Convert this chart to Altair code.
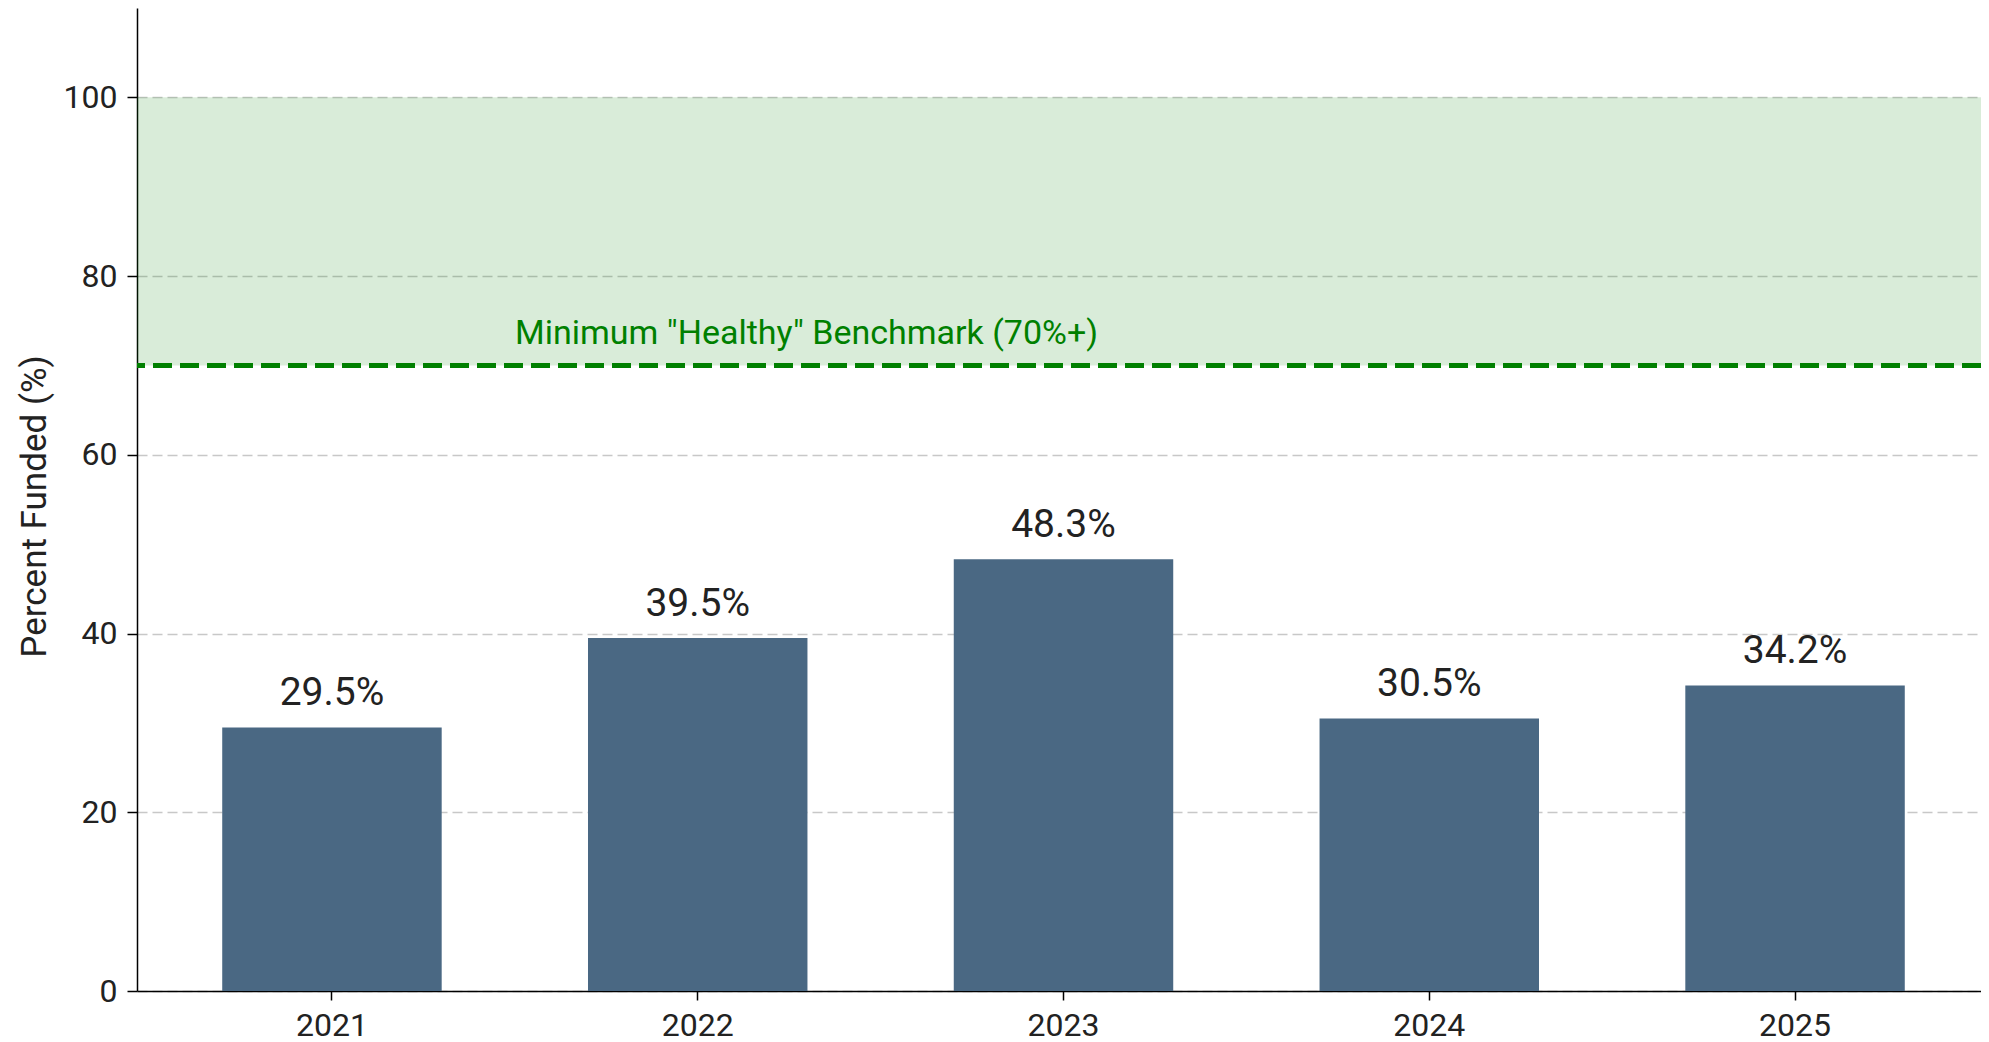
import altair as alt
import pandas as pd

years = ["2021", "2022", "2023", "2024", "2025"]
funded = [29.5, 39.5, 48.3, 30.5, 34.2]
labels = ["29.5%", "39.5%", "48.3%", "30.5%", "34.2%"]
y_ticks = [0, 20, 40, 60, 80, 100]
benchmark = 70
band_top = 100
benchmark_text = 'Minimum "Healthy" Benchmark (70%+)'

FONT = "Roboto"
BAR_COLOR = "#4a6883"
GREEN = "#008000"

bars_df = pd.DataFrame({"year": years, "funded": funded, "label": labels})
band_df = pd.DataFrame({"lo": [benchmark], "hi": [band_top]})
note_df = pd.DataFrame({"year": [years[0]], "y": [benchmark], "text": [benchmark_text]})

x_scale = alt.Scale(domain=years, range=[0, 1853], paddingInner=0.4, paddingOuter=0.233)
y_scale = alt.Scale(domain=[0, 110], nice=False)

x_enc = alt.X(
    "year:N",
    scale=x_scale,
    axis=alt.Axis(
        title=None,
        labelAngle=0,
        labelFont=FONT,
        labelFontSize=32,
        labelColor="#222222",
        labelBaseline="alphabetic",
        labelPadding=35,
        tickSize=9,
        tickWidth=1.5,
        tickColor="#000000",
        domainColor="#000000",
        domainWidth=1.5,
        grid=False,
    ),
)

y_axis = alt.Axis(
    title="Percent Funded (%)",
    titleFont=FONT,
    titleFontSize=35,
    titleFontWeight="normal",
    titleColor="#222222",
    titleAngle=-90,
    titleBaseline="alphabetic",
    titleAlign="center",
    titleX=-92,
    titleY=498,
    values=y_ticks,
    labelFont=FONT,
    labelFontSize=32,
    labelColor="#222222",
    labelPadding=10,
    tickSize=10,
    tickWidth=1.5,
    tickColor="#000000",
    domainColor="#000000",
    domainWidth=1.5,
    grid=True,
    gridColor="#c8c8c8",
    gridWidth=1.5,
    gridDash=[10, 5],
)

band = alt.Chart(band_df).mark_rect(color=GREEN, opacity=0.15).encode(
    y=alt.Y("lo:Q", scale=y_scale, axis=y_axis),
    y2="hi:Q",
)

bars = alt.Chart(bars_df).mark_bar(color=BAR_COLOR).encode(
    x=x_enc,
    y=alt.Y("funded:Q", scale=y_scale),
)

values_text = alt.Chart(bars_df).mark_text(
    font=FONT, fontSize=39, color="#222222", baseline="alphabetic", dy=-22
).encode(
    x=alt.X("year:N", scale=x_scale),
    y=alt.Y("funded:Q", scale=y_scale),
    text="label:N",
)

rule = alt.Chart(band_df).mark_rule(
    color=GREEN, strokeWidth=5, strokeDash=[19, 8]
).encode(y=alt.Y("lo:Q", scale=y_scale))

note = alt.Chart(note_df).mark_text(
    font=FONT, fontSize=34, color=GREEN, align="left", baseline="alphabetic",
    dx=183, dy=-21,
).encode(
    x=alt.X("year:N", scale=x_scale),
    y=alt.Y("y:Q", scale=y_scale),
    text="text:N",
)

chart = (
    alt.layer(band, bars, values_text, rule, note)
    .properties(
        width=1844,
        height=983,
        padding={"left": 129, "top": 0, "right": 0, "bottom": 56},
        autosize=alt.AutoSizeParams(type="none"),
        background="white",
    )
    .configure_view(stroke=None)
)

chart.save("out.html", embed_options={"renderer": "svg", "actions": False})
